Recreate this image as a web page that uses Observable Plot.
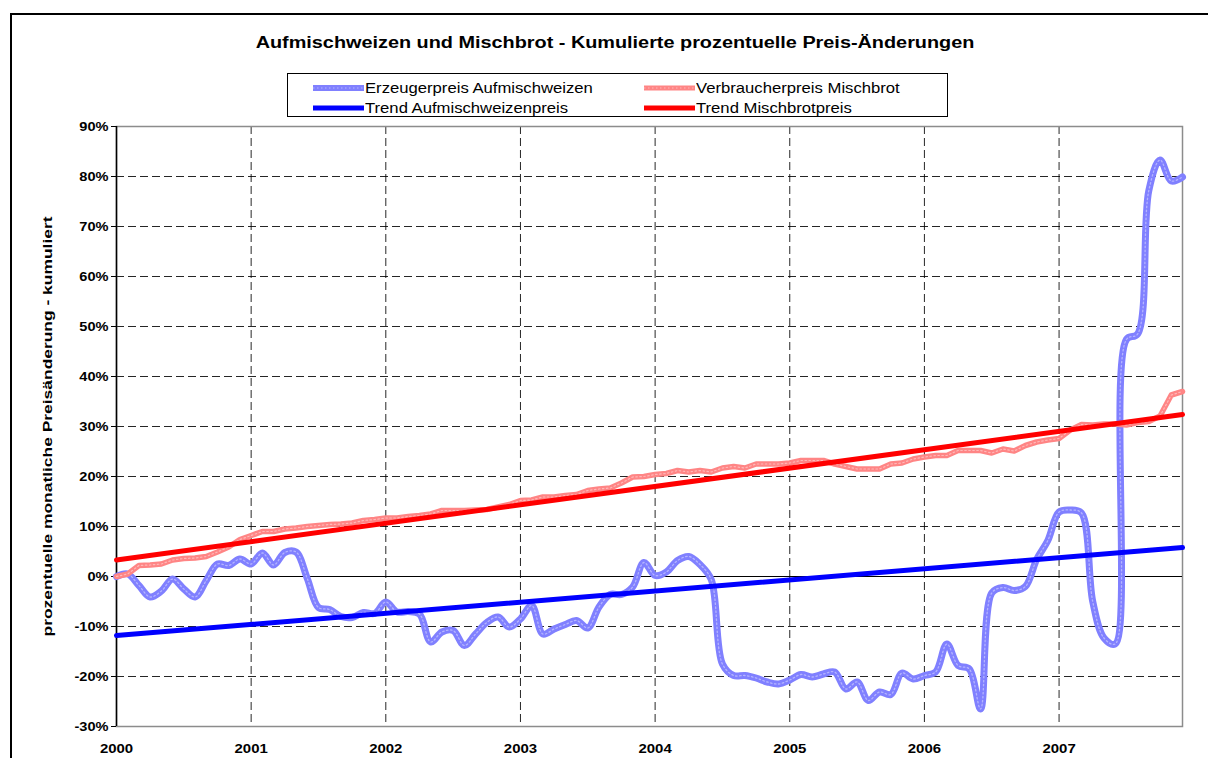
<!DOCTYPE html>
<html><head><meta charset="utf-8">
<script src="https://cdn.jsdelivr.net/npm/d3@7"></script>
<script src="https://cdn.jsdelivr.net/npm/@observablehq/plot@0.6"></script>
<style>
body{margin:0;background:#fff;font-family:Arial,"Liberation Sans",sans-serif}
#wrap{position:relative;width:1208px;height:758px;overflow:hidden;background:#fff}
#frame{position:absolute;left:10px;top:13px;width:1400px;height:1000px;border:2px solid #000;box-sizing:border-box}
#chart{position:absolute;left:0;top:0}
#title{position:absolute;left:0;width:1230px;top:34px;text-align:center;font-weight:bold;font-size:16px;line-height:18px;transform:scaleX(1.24);transform-origin:615px 50%}
#legend{position:absolute;left:287px;top:73px;width:661px;height:44px;border:1px solid #000;box-sizing:border-box;background:#fff}
.item{position:absolute;height:20px;font-size:14px;line-height:20px;white-space:nowrap}
.item svg{position:absolute;left:0;top:0}
.item span{position:absolute;left:52px;top:0;transform:scaleX(1.19);transform-origin:0 50%}
</style></head>
<body>
<div id="wrap">
  <div id="frame"></div>
  <div id="chart"></div>
  <div id="title">Aufmischweizen und Mischbrot - Kumulierte prozentuelle Preis-Änderungen</div>
  <div id="legend"></div>
</div>
<script>
// ---- data ----
const yearLabels = ["2000","2001","2002","2003","2004","2005","2006","2007"];
const yearTicks = yearLabels.map((_, k) => k * 12);
const months = d3.range(96); // Jan 2000 .. Dec 2007
const wheat = [
  0, 0.5, -1.8, -4.1, -2.9, -0.5, -2.5, -4.1, -0.8, 2.5, 2.2, 3.5,
  2.5, 4.7, 2.3, 4.8, 4.9, -0.4, -6.2, -6.6, -8.0, -8.2, -7.2, -7.4,
  -5.1, -7.1, -7.0, -7.5, -13.1, -11.1, -10.8, -13.8, -11.5, -9.2, -8.1, -10.1,
  -8.5, -5.8, -11.5, -10.5, -9.6, -8.8, -10.3, -6.1, -3.6, -3.6, -2.1, 2.8,
  0.2, 0.9, 3.2, 4.0, 2.4, -0.6, -17.5, -19.8, -19.8, -20.3, -21.1, -21.5,
  -20.7, -19.6, -20.1, -19.5, -19.1, -22.5, -21.1, -24.8, -23.1, -23.6, -19.3, -20.5,
  -19.8, -19.1, -13.5, -17.8, -18.5, -26.5, -3.3, -2.2, -2.8, -2.0, 3.4, 7.2,
  12.9, 13.3, 12.7, -5.0, -12.3, -13.5, 47.4, 48.5, 77.2, 83.3, 79.1, 79.9
];
const bread = [
  0, 0.5, 2.2, 2.3, 2.5, 3.3, 3.6, 3.7, 4.0, 4.9, 5.9, 7.4,
  8.2, 9.0, 9.0, 9.5, 9.7, 10.0, 10.2, 10.4, 10.5, 10.7, 11.2, 11.4,
  11.7, 11.7, 12.0, 12.2, 12.5, 13.2, 13.2, 13.2, 13.3, 13.4, 13.9, 14.4,
  15.2, 15.3, 15.9, 15.9, 16.2, 16.4, 17.2, 17.5, 17.7, 18.7, 19.9, 20.0,
  20.4, 20.6, 21.2, 20.9, 21.2, 20.9, 21.7, 22.0, 21.7, 22.5, 22.5, 22.5,
  22.7, 23.2, 23.2, 23.2, 22.5, 22.0, 21.5, 21.5, 21.5, 22.5, 22.7, 23.5,
  23.9, 24.2, 24.2, 25.2, 25.2, 25.2, 24.7, 25.5, 25.1, 26.2, 26.9, 27.3,
  27.6, 29.3, 30.4, 30.3, 30.5, 30.5, 30.3, 30.8, 31.0, 32.1, 36.3, 37.0
];
const trendX = [0, 95];
const trendWheat = [-11.8, 5.8];
const trendBread = [3.3, 32.4];
const yTicks = d3.range(-30, 91, 10);
const seriesNames = ["Erzeugerpreis Aufmischweizen", "Verbraucherpreis Mischbrot", "Trend Aufmischweizenpreis", "Trend Mischbrotpreis"];
const yLabel = "prozentuelle monatliche Preisänderung - kumuliert";

// ---- styles ----
const C = {
  wheat: "#8080ff", wheatDot: "#b4b4ff",
  bread: "#ff8585", breadDot: "#ffb8b8",
  trendWheat: "#0000ff", trendBread: "#ff0000"
};

const trendW = trendX.map((x, k) => ({x, y: trendWheat[k]}));
const trendB = trendX.map((x, k) => ({x, y: trendBread[k]}));
const dash = "8,4";

const chart = Plot.plot({
  width: 1208, height: 758,
  marginLeft: 116, marginRight: 26, marginTop: 126, marginBottom: 32,
  x: {domain: [0, 95]},
  y: {domain: [-30, 90]},
  style: {fontFamily: "Arial, 'Liberation Sans', sans-serif", fontSize: "13px", fontWeight: "bold", background: "transparent", overflow: "visible"},
  marks: [
    Plot.gridY(yTicks.filter(v => v !== 0 && v !== -30), {stroke: "#000", strokeOpacity: 0.85, strokeDasharray: dash}),
    Plot.gridX(yearTicks.slice(1), {stroke: "#000", strokeOpacity: 0.85, strokeDasharray: dash}),
    Plot.frame({stroke: "#8c8c8c", strokeWidth: 1.5}),
    Plot.ruleY([0], {stroke: "#000", strokeWidth: 1.2}),
    Plot.ruleX([0], {stroke: "#000", strokeWidth: 1.5}),
    Plot.axisY(yTicks, {tickSize: 5, tickPadding: 3, stroke: "#000", tickFormat: d => d + "%", label: null}),
    Plot.axisX(yearTicks, {tickSize: 0, tickPadding: 17, tickFormat: d => yearLabels[d / 12], label: null}),
    Plot.line(months, {x: months, y: wheat, stroke: C.wheat, strokeWidth: 7, curve: "catmull-rom"}),
    Plot.line(months, {x: months, y: wheat, stroke: C.wheatDot, strokeWidth: 1.3, strokeDasharray: "1.5,2.5", curve: "catmull-rom"}),
    Plot.line(months, {x: months, y: bread, stroke: C.bread, strokeWidth: 5.5}),
    Plot.line(months, {x: months, y: bread, stroke: C.breadDot, strokeWidth: 1.2, strokeDasharray: "1.5,2.5"}),
    Plot.line(trendW, {x: "x", y: "y", stroke: C.trendWheat, strokeWidth: 5}),
    Plot.line(trendB, {x: "x", y: "y", stroke: C.trendBread, strokeWidth: 5}),
    Plot.text([yLabel], {frameAnchor: "left", textAnchor: "middle", dx: -69, rotate: -90, fontSize: 13, fontWeight: "bold"})
  ]
});
document.getElementById("chart").appendChild(chart);

// widen text like the reference rendering
function stretch(el, factor, fixed) {
  const L = fixed || el.getComputedTextLength() * factor;
  el.setAttribute("textLength", L);
  el.setAttribute("lengthAdjust", "spacingAndGlyphs");
}
d3.select(chart).selectAll("text").each(function () {
  const t = this.textContent;
  if (t === yLabel) stretch(this, 1, 420);
  else if (yearLabels.includes(t)) stretch(this, 1.15);
  else if (/%$/.test(t)) stretch(this, 1.12);
});

// ---- legend ----
const legend = document.getElementById("legend");
const items = [
  {name: seriesNames[0], left: 25, top: 4, color: C.wheat, dot: C.wheatDot, w: 6},
  {name: seriesNames[1], left: 356, top: 4, color: C.bread, dot: C.breadDot, w: 5},
  {name: seriesNames[2], left: 25, top: 24, color: C.trendWheat, w: 5},
  {name: seriesNames[3], left: 356, top: 24, color: C.trendBread, w: 5}
];
for (const it of items) {
  const div = document.createElement("div");
  div.className = "item";
  div.style.left = it.left + "px";
  div.style.top = it.top + "px";
  let svg = `<svg width="52" height="20"><line x1="0" x2="51" y1="10" y2="10" stroke="${it.color}" stroke-width="${it.w}"/>`;
  if (it.dot) svg += `<line x1="0" x2="51" y1="10" y2="10" stroke="${it.dot}" stroke-width="1.2" stroke-dasharray="1.5,2.5"/>`;
  svg += `</svg>`;
  div.innerHTML = svg + `<span>${it.name}</span>`;
  legend.appendChild(div);
}
</script>
</body></html>
